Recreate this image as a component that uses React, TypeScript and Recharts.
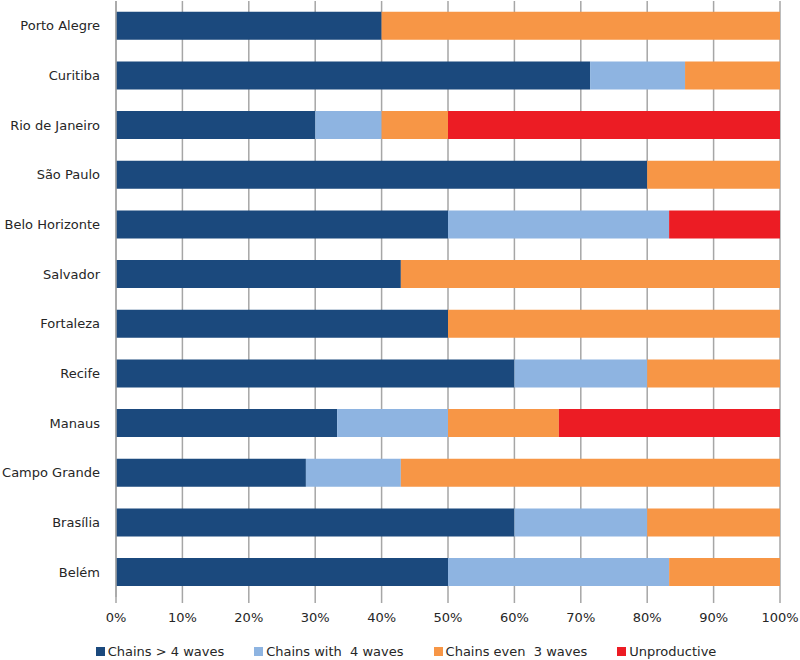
import { BarChart, Bar, XAxis, YAxis, CartesianGrid, Legend } from "recharts";

const cities = [
  "Porto Alegre",
  "Curitiba",
  "Rio de Janeiro",
  "São Paulo",
  "Belo Horizonte",
  "Salvador",
  "Fortaleza",
  "Recife",
  "Manaus",
  "Campo Grande",
  "Brasília",
  "Belém",
];

// shares in %
const moreThan4 = [40, 71.4, 30, 80, 50, 42.9, 50, 60, 33.3, 28.6, 60, 50];
const with4 = [0, 14.3, 10, 0, 33.3, 0, 0, 20, 16.7, 14.3, 20, 33.3];
const even3 = [60, 14.3, 10, 20, 0, 57.1, 50, 20, 16.7, 57.1, 20, 16.7];
const unproductive = [0, 0, 50, 0, 16.7, 0, 0, 0, 33.3, 0, 0, 0];

const xTicks = [0, 10, 20, 30, 40, 50, 60, 70, 80, 90, 100];

const series = [
  { key: "gt4", name: "Chains > 4 waves", color: "#1b497d" },
  { key: "eq4", name: "Chains with  4 waves", color: "#8eb4e1" },
  { key: "le3", name: "Chains even  3 waves", color: "#f79646" },
  { key: "unp", name: "Unproductive", color: "#ec1c24" },
];

const data = cities.map((city, i) => ({
  city,
  gt4: moreThan4[i],
  eq4: with4[i],
  le3: even3[i],
  unp: unproductive[i],
}));

const font = "'DejaVu Sans', Verdana, sans-serif";
const textColor = "#262626";

function LegendRow() {
  return (
    <div
      style={{
        display: "flex",
        justifyContent: "center",
        gap: 30,
        paddingLeft: 32,
        fontFamily: font,
        fontSize: 13,
        color: textColor,
        whiteSpace: "pre",
      }}
    >
      {series.map((s) => (
        <div key={s.key} style={{ display: "flex", alignItems: "center" }}>
          <span
            style={{
              display: "inline-block",
              width: 9,
              height: 9,
              background: s.color,
              marginRight: 3,
            }}
          />
          <span>{s.name}</span>
        </div>
      ))}
    </div>
  );
}

export default function App() {
  return (
    <div style={{ position: "absolute", left: 0, top: 0, background: "#fff" }}>
      <BarChart
        width={800}
        height={660}
        data={data}
        layout="vertical"
        barCategoryGap="21.6%"
        margin={{ top: 1, right: 20, bottom: 1, left: 0 }}
      >
        <CartesianGrid horizontal={false} stroke="#a6a6a6" strokeWidth={1.5} />
        <XAxis
          type="number"
          domain={[0, 100]}
          ticks={xTicks}
          tickFormatter={(v) => `${v}%`}
          axisLine={false}
          tickLine={{ stroke: "#a6a6a6", strokeWidth: 1.5 }}
          tickSize={6}
          tickMargin={10}
          height={47}
          tick={{ fill: textColor, fontSize: 13, fontFamily: font }}
        />
        <YAxis
          type="category"
          dataKey="city"
          width={116}
          axisLine={{ stroke: "#a6a6a6", strokeWidth: 1.5 }}
          tickLine={false}
          tickMargin={10}
          tick={{ fill: textColor, fontSize: 13, fontFamily: font }}
        />
        <Legend verticalAlign="bottom" content={() => <LegendRow />} />
        {series.map((s) => (
          <Bar
            key={s.key}
            dataKey={s.key}
            name={s.name}
            stackId="a"
            fill={s.color}
            isAnimationActive={false}
          />
        ))}
      </BarChart>
    </div>
  );
}
